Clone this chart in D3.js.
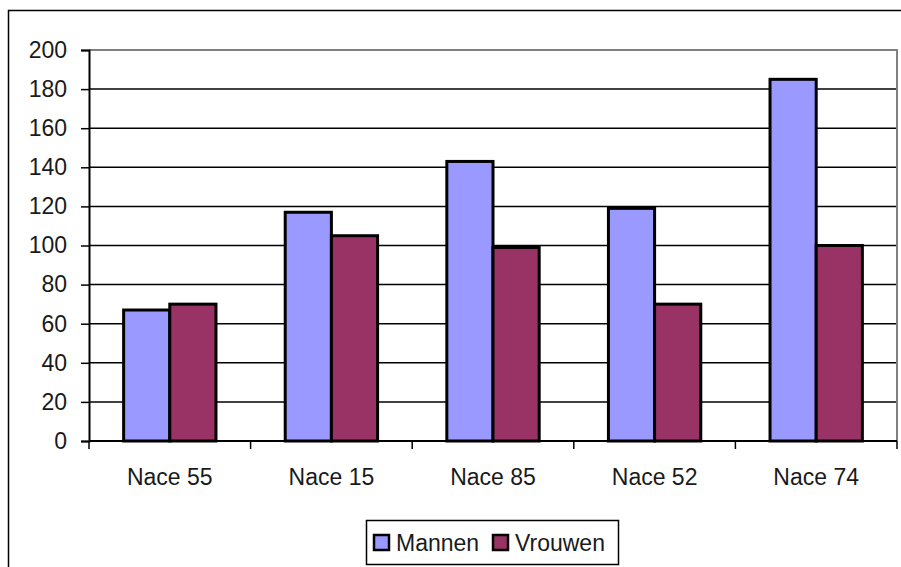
<!DOCTYPE html>
<html>
<head>
<meta charset="utf-8">
<script src="https://cdn.jsdelivr.net/npm/d3@7"></script>
<style>
  body { margin: 0; background: #fff; }
  svg { display: block; }
  text { font-family: "Liberation Sans", Arial, sans-serif; fill: #1a1a1a; }
</style>
</head>
<body>
<svg id="chart" width="901" height="567"></svg>
<script>
const categories = ["Nace 55", "Nace 15", "Nace 85", "Nace 52", "Nace 74"];
const seriesNames = ["Mannen", "Vrouwen"];
const mannen = [67, 117, 143, 119, 185];
const vrouwen = [70, 105, 99, 70, 100];
const yTicks = [0, 20, 40, 60, 80, 100, 120, 140, 160, 180, 200];
const colors = ["#9999ff", "#993366"];

const rows = categories.map((c, i) => ({ cat: c, values: [mannen[i], vrouwen[i]] }));

const W = 901, H = 567;
const plot = { left: 89, right: 897, top: 50, bottom: 441 };

const svg = d3.select("#chart");

// outer chart frame (runs off the right / bottom edge)
svg.append("rect")
    .attr("x", 8.5).attr("y", 10.5)
    .attr("width", W + 10).attr("height", H + 10)
    .attr("fill", "#fff")
    .attr("stroke", "#000")
    .attr("stroke-width", 1.5);

const x0 = d3.scaleBand()
    .domain(categories)
    .range([plot.left, plot.right]);

const x1 = d3.scaleBand()
    .domain(seriesNames)
    .range([0, x0.bandwidth()])
    .paddingOuter(0.75);

const y = d3.scaleLinear()
    .domain([0, 200])
    .range([plot.bottom, plot.top]);

// gridlines
svg.append("g")
    .selectAll("line")
    .data(yTicks.filter(d => d > 0 && d < 200))
    .enter().append("line")
    .attr("x1", plot.left).attr("x2", plot.right)
    .attr("y1", d => y(d)).attr("y2", d => y(d))
    .attr("stroke", "#000")
    .attr("stroke-width", 1.5);

// plot area border top/right (grey)
svg.append("path")
    .attr("d", `M${plot.left},${plot.top}H${plot.right}V${plot.bottom}`)
    .attr("fill", "none")
    .attr("stroke", "#808080")
    .attr("stroke-width", 2);

// bars
const groups = svg.append("g")
    .selectAll("g")
    .data(rows)
    .enter().append("g")
    .attr("transform", d => `translate(${x0(d.cat)},0)`);

groups.selectAll("rect")
    .data(d => d.values.map((v, i) => ({ key: seriesNames[i], v: v, i: i })))
    .enter().append("rect")
    .attr("x", d => x1(d.key))
    .attr("y", d => y(d.v))
    .attr("width", x1.bandwidth())
    .attr("height", d => y(0) - y(d.v))
    .attr("fill", d => colors[d.i])
    .attr("stroke", "#000")
    .attr("stroke-width", 3);

// y axis
const yAxis = svg.append("g")
    .attr("transform", `translate(${plot.left},0)`)
    .call(d3.axisLeft(y).tickValues(yTicks).tickSize(8).tickPadding(14));
yAxis.select(".domain").attr("stroke", "#000").attr("stroke-width", 2);
yAxis.selectAll(".tick line").attr("stroke", "#000").attr("stroke-width", 1.5);
yAxis.selectAll(".tick text")
    .style("font-size", "23px")
    .attr("fill", "#1a1a1a");

// x axis
const xAxis = svg.append("g")
    .attr("transform", `translate(0,${plot.bottom})`)
    .call(d3.axisBottom(x0).tickSize(0).tickPadding(28));
xAxis.select(".domain").attr("stroke", "#000").attr("stroke-width", 2)
    .attr("d", `M${plot.left},0H${plot.right}`);
xAxis.selectAll(".tick text")
    .style("font-size", "23px")
    .attr("fill", "#1a1a1a");

// category separator ticks
const sepTicks = categories.map(c => x0(c)).concat([plot.right]);
svg.append("g")
    .selectAll("line")
    .data(sepTicks)
    .enter().append("line")
    .attr("x1", d => d).attr("x2", d => d)
    .attr("y1", plot.bottom).attr("y2", plot.bottom + 8)
    .attr("stroke", "#000")
    .attr("stroke-width", 1.5);

// legend
const legend = svg.append("g");
legend.append("rect")
    .attr("x", 366.5).attr("y", 520.5)
    .attr("width", 252).attr("height", 44)
    .attr("fill", "#fff")
    .attr("stroke", "#000")
    .attr("stroke-width", 1.5);

const legendX = [374, 493];
seriesNames.forEach((name, i) => {
  legend.append("rect")
      .attr("x", legendX[i]).attr("y", 535)
      .attr("width", 15).attr("height", 15)
      .attr("fill", colors[i])
      .attr("stroke", "#000")
      .attr("stroke-width", 2.5);
  legend.append("text")
      .attr("x", legendX[i] + 22).attr("y", 551)
      .style("font-size", "23px")
      .text(name);
});
</script>
</body>
</html>
